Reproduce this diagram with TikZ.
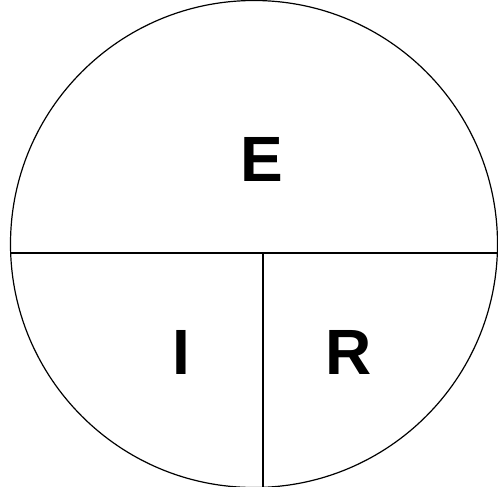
\documentclass[tikz,border=0pt]{standalone}
\usepackage{fontspec}
\setsansfont{Liberation Sans}
\usetikzlibrary{positioning,calc}

\begin{document}
\begin{tikzpicture}[
    x=1pt, y=-1pt,
    font=\sffamily\bfseries\fontsize{64}{64}\selectfont,
    ringLine/.style={
        draw=black, line width=1.2pt
    },
    splitLine/.style={
        draw=black, line width=1.5pt
    },
    letterTxt/.style={
        inner sep=0pt, anchor=center
    }
]
\useasboundingbox (0,0) rectangle (498,487);

% Outer circle
\coordinate (centre) at (254,244);
\draw[ringLine] (centre) circle[radius=243.5];

% Dividing chords
\coordinate (westEnd) at (10.5,253);
\coordinate (eastEnd) at (497.5,253);
\coordinate (midTop) at (263,253);
\coordinate (midBottom) at (263,487);
\draw[splitLine] (westEnd) -- (eastEnd);
\draw[splitLine] (midTop) -- (midBottom);

% Letters
\node[letterTxt] (voltage) at (262,159) {E};
\node[letterTxt] (current) at (181,352) {I};
\node[letterTxt] (resist) at (349,352) {R};

\end{tikzpicture}
\end{document}
